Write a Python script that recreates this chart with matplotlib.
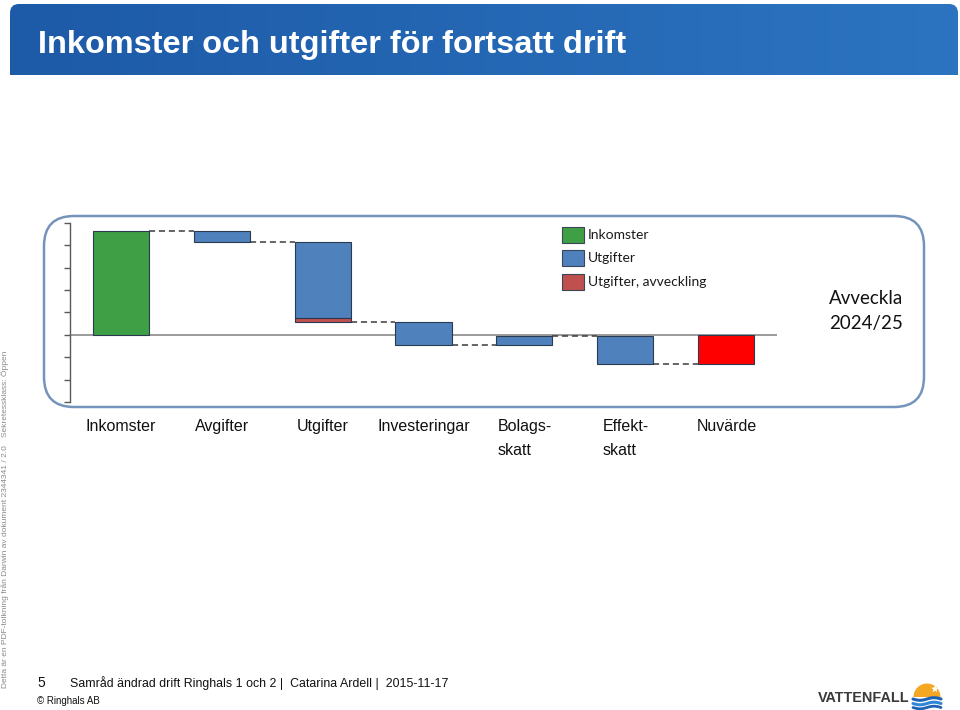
import numpy as np
import matplotlib
matplotlib.use("Agg")
import matplotlib.pyplot as plt
from matplotlib.patches import FancyBboxPatch, Rectangle, Wedge, Polygon
from matplotlib.colors import LinearSegmentedColormap

# ---------------- data ----------------
categories = ["Inkomster", "Avgifter", "Utgifter", "Investeringar",
              "Bolags-\nskatt", "Effekt-\nskatt", "Nuvärde"]
inkomster = 4.61
avgifter = -0.47
utgifter_drift = -3.37
utgifter_avveckling = -0.20
investeringar = -1.02
bolagsskatt = 0.40
effektskatt = -1.24

legend_labels = ["Inkomster", "Utgifter", "Utgifter, avveckling"]
title = "Inkomster och utgifter för fortsatt drift"
scenario = "Avveckla\n2024/25"
footer = "Samråd ändrad drift Ringhals 1 och 2 |  Catarina Ardell |  2015-11-17"
page_no = "5"
copyright_txt = "© Ringhals AB"
side_text_1 = "Detta är en PDF-tolkning från Darwin av dokument 2344341 / 2.0"
side_text_2 = "Sekretessklass: Öppen"
brand = "VATTENFALL"

GREEN = "#3e9f45"
BLUE = "#4f81bd"
RED_DARK = "#c0504d"
RED = "#ff0000"
EDGE = "#2b3a4e"

# ---------------- figure ----------------
fig = plt.figure(figsize=(9.6, 7.1), dpi=100)
bg = fig.add_axes([0, 0, 1, 1], zorder=0)
bg.set_xlim(0, 960)
bg.set_ylim(710, 0)
bg.axis("off")

# title bar with gradient
cmap = LinearSegmentedColormap.from_list("tb", ["#1d5aa7", "#2c74c0"])
grad = np.linspace(0, 1, 256).reshape(1, -1)
im = bg.imshow(grad, extent=(10, 958, 75, 4), aspect="auto", cmap=cmap, zorder=1)
clip = FancyBboxPatch((10, 4), 948, 90, boxstyle="round,pad=0,rounding_size=9",
                      transform=bg.transData, facecolor="none", edgecolor="none")
bg.add_patch(clip)
im.set_clip_path(clip)
bg.set_xlim(0, 960)
bg.set_ylim(710, 0)
bg.text(38, 53, title, color="white", fontsize=23.4, fontweight="bold",
        family="Liberation Sans", va="baseline", ha="left", zorder=3)

# rounded frame
frame = FancyBboxPatch((44, 216), 880, 191, boxstyle="round,pad=0,rounding_size=30",
                       facecolor="none", edgecolor="#7594bc", linewidth=1.8, zorder=1)
bg.add_patch(frame)

# legend (manual)
leg_colors = [GREEN, BLUE, RED_DARK]
for k, (lab, col) in enumerate(zip(legend_labels, leg_colors)):
    yc = 235 + k * 23.3
    bg.add_patch(Rectangle((562, yc - 8), 22, 16, facecolor=col, edgecolor="#3b4656",
                           linewidth=0.8, zorder=3))
    bg.text(588, yc, lab, fontsize=10, family="Lato", va="center", ha="left",
            color="#1a1a1a", zorder=3)

bg.text(829, 311, scenario, fontsize=13.5, family="Lato", va="center", ha="left",
        color="#111111", linespacing=1.6, zorder=3)

# side text
bg.text(5, 688, side_text_1, rotation=90, fontsize=6, color="#8a8a8a",
        family="Liberation Sans", va="center", ha="left", rotation_mode="anchor")
bg.text(5, 437, side_text_2, rotation=90, fontsize=6, color="#8a8a8a",
        family="Liberation Sans", va="center", ha="left", rotation_mode="anchor")

# footer
bg.text(37, 687, page_no, fontsize=10, family="Liberation Sans", va="baseline", color="#111111")
bg.text(70, 687, footer, fontsize=8.9, family="Liberation Sans", va="baseline", color="#111111")
bg.text(37, 704, copyright_txt, fontsize=7, family="Liberation Sans", va="baseline", color="#111111")
bg.text(818, 702, brand, fontsize=10.4, fontweight="bold", family="Liberation Sans",
        va="baseline", color="#3a3a3a")
# logo
bg.add_patch(Wedge((927, 697), 13.5, 180, 360, facecolor="#f5a623", edgecolor="none", zorder=3))
sx, sy = 935, 689
ang = np.linspace(-np.pi / 2, 1.5 * np.pi, 11)[:-1]
rad = np.where(np.arange(10) % 2 == 0, 4.0, 1.7)
bg.add_patch(Polygon(np.c_[sx + rad * np.cos(ang), sy + rad * np.sin(ang)],
                     facecolor="white", edgecolor="none", zorder=4))
wx = np.linspace(913, 941, 60)
for off, col, lw in [(699, "#1f62b4", 2.2), (703.5, "#2f86d6", 2.2), (707.5, "#1f62b4", 2.0)]:
    bg.plot(wx, off + 1.3 * np.sin((wx - 913) / 28 * 2 * np.pi), color=col, lw=lw,
            solid_capstyle="round", zorder=3)

# ---------------- chart ----------------
ax = fig.add_axes([70.1 / 960, 1 - 402 / 710, 706.8 / 960, 179.3 / 710], zorder=2)
ax.patch.set_alpha(0)

steps = [inkomster, avgifter, utgifter_drift + utgifter_avveckling,
         investeringar, bolagsskatt, effektskatt]
ends = np.cumsum(steps)
starts = np.concatenate([[0], ends[:-1]])
nuvarde = ends[-1]
x = np.arange(len(categories))
w = 0.555

ax.axhline(0, color="#8a8a8a", lw=1.2, zorder=1)

ax.bar(x[0], inkomster, bottom=0, width=w, color=GREEN, edgecolor=EDGE, lw=0.8, zorder=3)
ax.bar(x[1], avgifter, bottom=starts[1], width=w, color=BLUE, edgecolor=EDGE, lw=0.8, zorder=3)
ax.bar(x[2], utgifter_drift, bottom=starts[2], width=w, color=BLUE, edgecolor=EDGE, lw=0.8, zorder=3)
ax.bar(x[2], utgifter_avveckling, bottom=starts[2] + utgifter_drift, width=w, color=RED_DARK,
       edgecolor=EDGE, lw=0.8, zorder=3)
for i in (3, 4, 5):
    ax.bar(x[i], steps[i], bottom=starts[i], width=w, color=BLUE, edgecolor=EDGE, lw=0.8, zorder=3)
ax.bar(x[6], nuvarde, bottom=0, width=w, color=RED, edgecolor=EDGE, lw=0.8, zorder=3)

for i in range(len(ends)):
    ax.plot([x[i] + w / 2, x[i + 1] - w / 2], [ends[i], ends[i]], color="#3c3c3c",
            lw=1.1, ls=(0, (4, 2.5)), zorder=2)

ax.set_xlim(-0.5, 6.5)
ax.set_ylim(-3, 5)
ax.set_yticks(np.arange(-3, 6))
ax.set_yticklabels([])
ax.tick_params(axis="y", direction="out", length=4, width=1, color="#595959")
for s in ("top", "right", "bottom"):
    ax.spines[s].set_visible(False)
ax.spines["left"].set_color("#595959")
ax.spines["left"].set_linewidth(1)
ax.set_xticks(x)
ax.set_xticklabels(categories, fontsize=11.5, family="Liberation Sans", color="#111111",
                   multialignment="left", linespacing=1.75)
ax.tick_params(axis="x", length=0, pad=12)

fig.savefig("out.png", dpi=100)
